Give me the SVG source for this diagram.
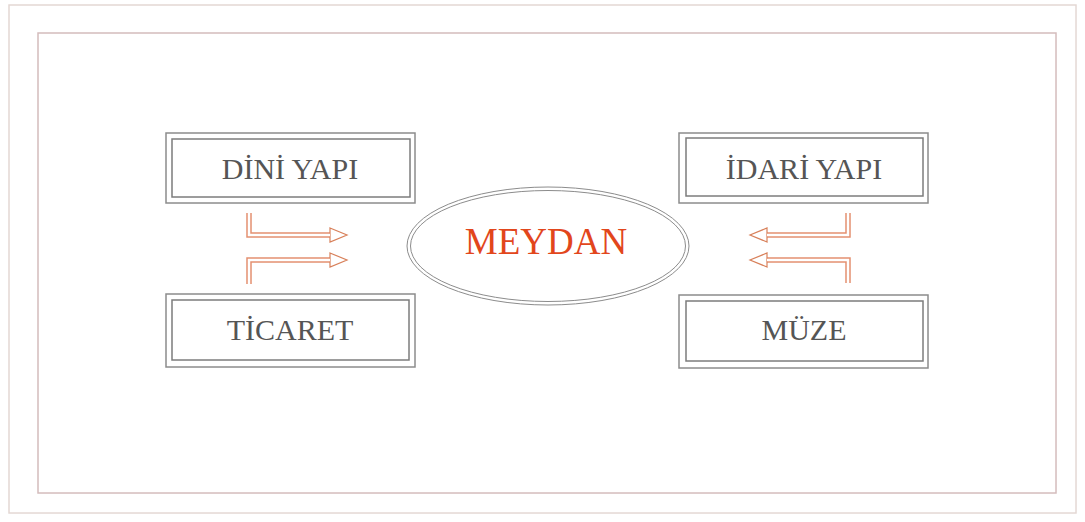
<svg xmlns="http://www.w3.org/2000/svg" width="1085" height="522" viewBox="0 0 1085 522">
<style>
.frame-o{fill:none;stroke:#e4d8d4;stroke-width:1.5}
.frame-i{fill:none;stroke:#d4bcbc;stroke-width:1.5}
.box-o{fill:none;stroke:#8c8c8c;stroke-width:1.5}
.box-i{fill:none;stroke:#7c7c7c;stroke-width:1.5}
.lbl{font-family:"Liberation Serif","Times New Roman",serif;font-size:30px;fill:#555;text-anchor:middle}
.title{font-family:"Liberation Serif","Times New Roman",serif;font-size:37px;fill:#e2461c;text-anchor:middle}
.ell{fill:none;stroke:#8c8c8c;stroke-width:1}
.arr-o{fill:none;stroke:#e49070;stroke-width:5.5;stroke-linecap:butt;stroke-linejoin:miter}
.arr-i{fill:none;stroke:#fff;stroke-width:2.5;stroke-linecap:butt;stroke-linejoin:miter}
</style>
<defs>
<marker id="head" markerUnits="userSpaceOnUse" markerWidth="20" markerHeight="18" refX="1" refY="8" orient="auto" overflow="visible">
<path d="M1,1 L18,8 L1,15 Z" fill="#fff" stroke="#d8805a" stroke-width="1.2"/>
</marker>
</defs>
<rect width="1085" height="522" fill="#fff"/>
<rect class="frame-o" x="9" y="5" width="1067" height="508"/>
<rect class="frame-i" x="38" y="33" width="1018" height="460"/>
<g id="dini-yapi">
<rect class="box-o" x="166" y="133" width="249" height="70"/>
<rect class="box-i" x="172" y="139" width="238" height="58"/>
<text class="lbl" x="290" y="179">DİNİ YAPI</text>
</g>
<g id="ticaret">
<rect class="box-o" x="166" y="294" width="249" height="73"/>
<rect class="box-i" x="172" y="300" width="237" height="60"/>
<text class="lbl" x="290" y="340">TİCARET</text>
</g>
<g id="idari-yapi">
<rect class="box-o" x="679" y="133" width="249" height="70"/>
<rect class="box-i" x="686" y="138" width="237" height="58"/>
<text class="lbl" x="804" y="179">İDARİ YAPI</text>
</g>
<g id="muze">
<rect class="box-o" x="679" y="295" width="249" height="73"/>
<rect class="box-i" x="686" y="301" width="237" height="60"/>
<text class="lbl" x="804" y="340">MÜZE</text>
</g>
<g id="meydan">
<ellipse class="ell" cx="548" cy="246" rx="141" ry="59"/>
<ellipse class="ell" cx="548" cy="246" rx="137.5" ry="55.5"/>
<text class="title" x="546" y="254">MEYDAN</text>
</g>
<g id="connectors">
<path class="arr-o" d="M249,213 V235 H330" marker-end="url(#head)"/>
<path class="arr-i" d="M249,213 V235 H330"/>
<path class="arr-o" d="M249,284 V260 H330" marker-end="url(#head)"/>
<path class="arr-i" d="M249,284 V260 H330"/>
<path class="arr-o" d="M848,213 V235 H767" marker-end="url(#head)"/>
<path class="arr-i" d="M848,213 V235 H767"/>
<path class="arr-o" d="M848,283 V260 H767" marker-end="url(#head)"/>
<path class="arr-i" d="M848,283 V260 H767"/>
</g>
</svg>
